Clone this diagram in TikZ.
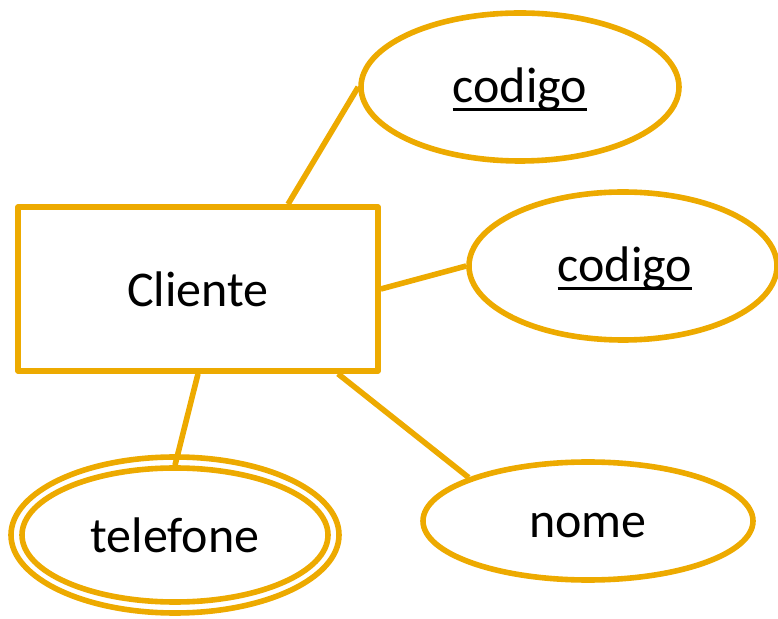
\documentclass[tikz,border=0pt]{standalone}
\usepackage{fontspec}
\setmainfont{Carlito}
\usetikzlibrary{shapes.geometric}
\definecolor{ergold}{RGB}{237,170,0}
\tikzset{
  erline/.style={draw=ergold, line width=5.6pt},
  entity/.style={erline, rectangle, line join=round, inner sep=0pt},
  attr/.style={erline, ellipse, inner sep=0pt},
  lbl/.style={anchor=base, inner sep=0pt, font=\fontsize{50}{60}\selectfont},
  keyline/.style={line width=3pt, black}
}
\begin{document}
\begin{tikzpicture}[x=1pt,y=1pt]
\useasboundingbox (0,0) rectangle (778,618);
% entity
\node[entity, minimum width=360pt, minimum height=164pt] (cl) at (198,329) {};
\node[lbl] (clt) at (198,311) {Cliente};
% key attributes
\node[attr, minimum width=318pt, minimum height=148pt] (e1) at (520,531) {};
\node[lbl] (k1) at (520,515) {codigo};
\draw[keyline] ([yshift=-7pt]k1.base west) -- ([yshift=-7pt]k1.base east);
\node[attr, minimum width=308pt, minimum height=148pt] (e2) at (623,352) {};
\node[lbl] (k2) at (625,336) {codigo};
\draw[keyline] ([yshift=-7pt]k2.base west) -- ([yshift=-7pt]k2.base east);
% simple attribute
\node[attr, minimum width=330pt, minimum height=118pt] (e3) at (588,97) {};
\node[lbl] (nm) at (588,81) {nome};
% multivalued attribute
\node[attr, minimum width=328pt, minimum height=156pt] (tout) at (175,83) {};
\node[attr, minimum width=306pt, minimum height=134pt] (tin) at (175,83) {};
\node[lbl] (tl) at (175,66) {telefone};
% connectors
\draw[erline] ([xshift=90pt]cl.north) -- (e1.west);
\draw[erline] (cl.east) -- (e2.west);
\draw[erline] (cl.south) -- (tin.north);
\draw[erline] ([xshift=140pt]cl.south) -- (e3.160);
\end{tikzpicture}
\end{document}
